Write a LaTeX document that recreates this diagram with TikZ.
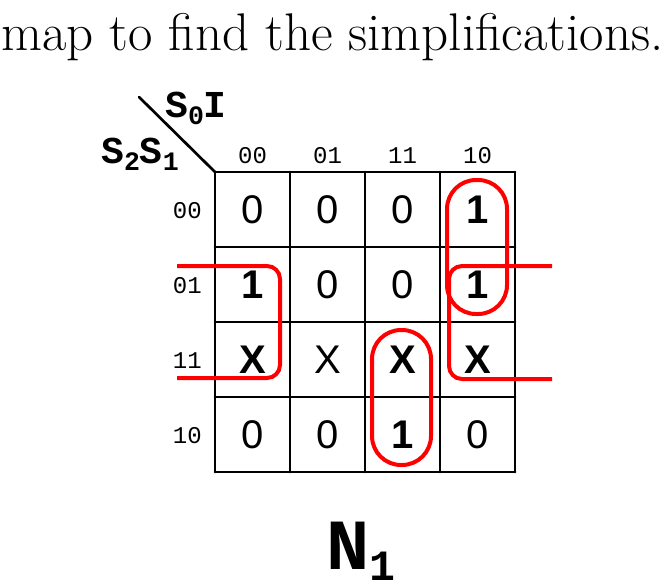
\documentclass[tikz,border=0pt]{standalone}
\usepackage{fontspec}
\newfontfamily\kmapsans{Liberation Sans}
\newfontfamily\kmapmono{Liberation Mono}
% lowered, shrunk index for the variable names
\newcommand{\lowidx}[3]{\raisebox{-#1em}{\scalebox{#2}{#3}}}

\tikzset{
  gridline/.style={line width=2.7pt, line cap=round},
  loopline/.style={red, line width=4pt},
  cellval/.style={inner sep=0pt, font=\kmapsans\fontsize{40}{40}\selectfont},
  boldval/.style={inner sep=0pt, font=\kmapsans\bfseries\fontsize{40}{40}\selectfont},
  headval/.style={inner sep=0pt, font=\kmapmono\fontsize{24}{24}\selectfont},
  varname/.style={inner sep=0pt, font=\kmapmono\bfseries\fontsize{38}{38}\selectfont}
}

\begin{document}
\begin{tikzpicture}[x=1pt, y=-1pt]
\useasboundingbox (0,0) rectangle (668,587);

% Text line above the map
\node[anchor=base west, inner sep=0pt, font=\fontsize{53}{53}\selectfont] (intro) at (1,50) {map to find the simplifications.};

% Corner: variable names
\draw[gridline] (139,97) -- (215,172);
\node[varname, anchor=base west] (colvars) at (165,117) {S\lowidx{0.2}{0.7}{0}I};
\node[varname, anchor=base west] (rowvars) at (101,163) {S\lowidx{0.2}{0.7}{2}S\lowidx{0.2}{0.7}{1}};

% Gray code headers
\foreach \g [count=\k from 0] in {00,01,11,10} {
  \node[headval, anchor=base] (col\g) at (252.5+75*\k,163) {\g};
  \node[headval, anchor=base east] (row\g) at (202,218+75*\k) {\g};
}

% Grid 4x4
\foreach \k in {0,...,4} {
  \draw[gridline] (215+75*\k,172) -- (215+75*\k,472);
  \draw[gridline] (215,172+75*\k) -- (515,172+75*\k);
}

% Cell values
% Row 00
\foreach \v/\s [count=\c from 0] in {0/cellval,0/cellval,0/cellval,1/boldval}
  \node[\s] (a\c) at (252.5+75*\c,210) {\v};
% Row 01
\foreach \v/\s [count=\c from 0] in {1/boldval,0/cellval,0/cellval,1/boldval}
  \node[\s] (b\c) at (252.5+75*\c,285) {\v};
% Row 11
\foreach \v/\s [count=\c from 0] in {X/boldval,X/cellval,X/boldval,X/boldval}
  \node[\s] (d\c) at (252.5+75*\c,360) {\v};
% Row 10
\foreach \v/\s [count=\c from 0] in {0/cellval,0/cellval,1/boldval,0/cellval}
  \node[\s] (e\c) at (252.5+75*\c,435) {\v};

% Groupings
\draw[loopline, rounded corners=29pt] (447,180) rectangle (507,314);
\draw[loopline, rounded corners=29pt] (372,330) rectangle (431,465);
\draw[loopline, rounded corners=13pt] (552,266) -- (449,266) -- (449,379) -- (552,379);
\draw[loopline, rounded corners=13pt] (177,266) -- (280,266) -- (280,378) -- (177,378);

% Function name
\node[anchor=base, inner sep=0pt, font=\kmapmono\bfseries\fontsize{72}{72}\selectfont] (fname) at (361,569) {N\lowidx{0.16}{0.6}{1}};
\end{tikzpicture}
\end{document}
